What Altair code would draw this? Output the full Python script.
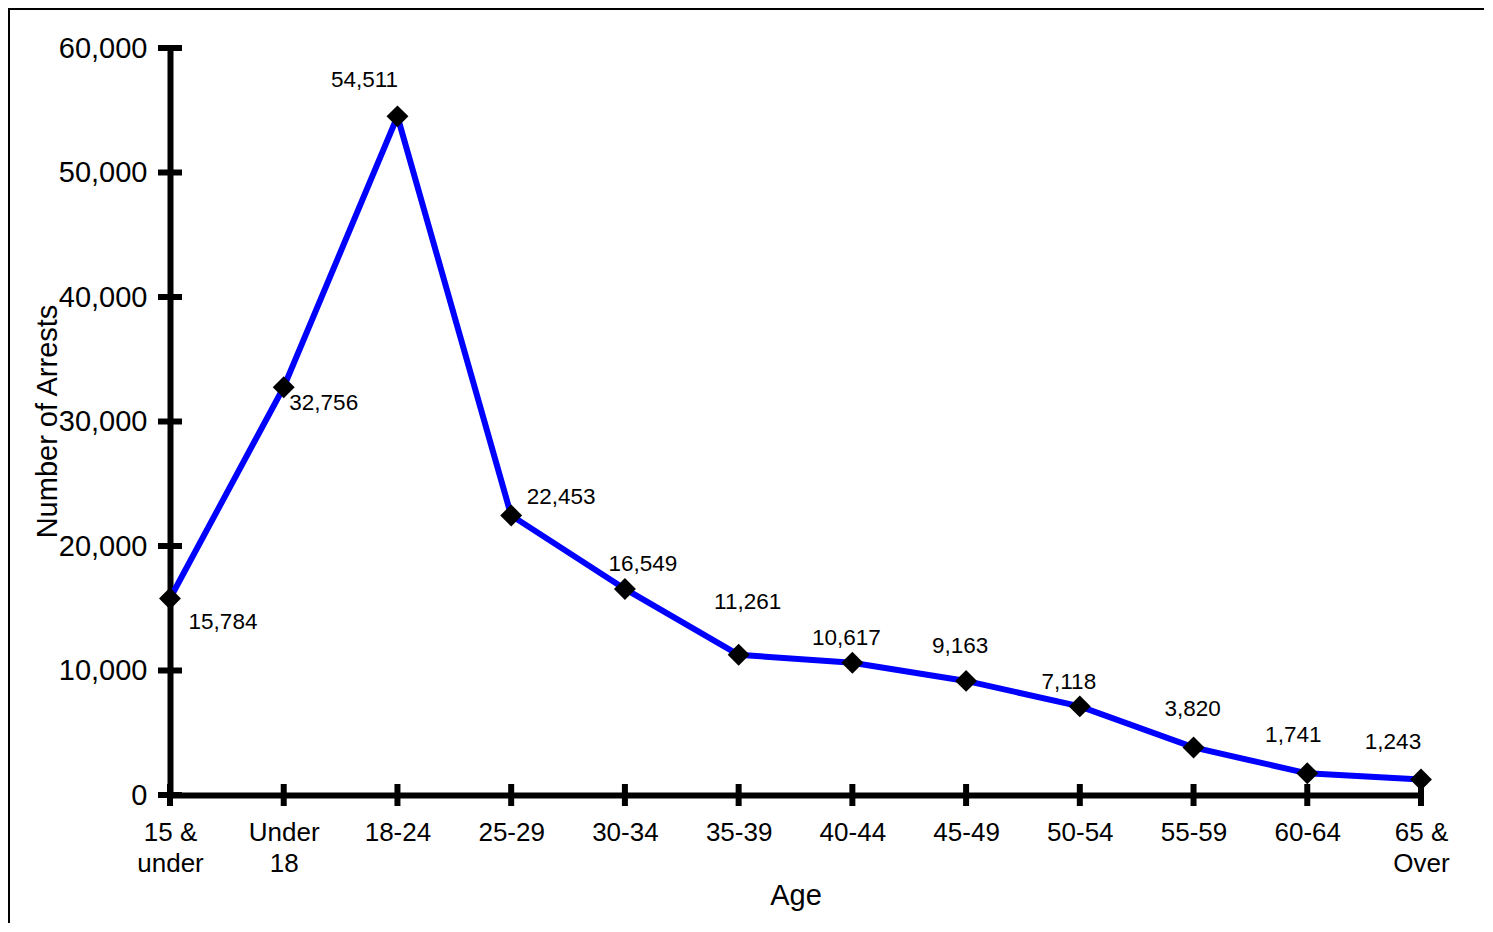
import altair as alt
import pandas as pd

# ---- data ----
age_groups = ["15 &\nunder", "Under\n18", "18-24", "25-29", "30-34", "35-39",
              "40-44", "45-49", "50-54", "55-59", "60-64", "65 &\nOver"]
arrests = [15784, 32756, 54511, 22453, 16549, 11261, 10617, 9163, 7118, 3820, 1741, 1243]
y_tick_values = [0, 10000, 20000, 30000, 40000, 50000, 60000]

# label placement (pixel offsets from each point, as in the reference)
label_offsets = [(53, 24), (40, 16), (-33, -36), (50, -18), (18, -25), (9, -53),
                 (-6, -25), (-6, -35), (-11, -24), (-1, -38), (-14, -38), (-28, -38)]

df = pd.DataFrame({"age": age_groups, "arrests": arrests})
df_ticks = pd.DataFrame({"arrests": y_tick_values})

FONT = "Liberation Sans"
W, H = 1251, 747
PAD = {"left": 162, "top": 40, "right": 63, "bottom": 128}

x_scale = alt.Scale(type="point", padding=0, domain=age_groups)
y_scale = alt.Scale(domain=[0, 60000], nice=False, zero=True)

x_axis = alt.Axis(title="Age", labelAngle=0,
                  labelExpr="split(datum.label, '\\n')",
                  labelFont=FONT, labelFontSize=26, labelColor="black",
                  labelLineHeight=31, labelPadding=24, labelBaseline="top",
                  ticks=False, grid=False, domainColor="black", domainWidth=6,
                  domainOpacity=1,
                  titleFont=FONT, titleFontSize=29, titleFontWeight="normal",
                  titleColor="black", titleY=100, titleBaseline="middle")
y_axis = alt.Axis(title="Number of Arrests", values=y_tick_values, format=",d",
                  labelFont=FONT, labelFontSize=29, labelColor="black",
                  labelPadding=23, ticks=False, grid=False,
                  domainColor="black", domainWidth=6, domainOpacity=1,
                  titleFont=FONT, titleFontSize=29, titleFontWeight="normal",
                  titleColor="black", titleAngle=-90, titleX=-123, titleY=373,
                  titleAlign="center", titleBaseline="middle")

X = alt.X("age:N", scale=x_scale, sort=age_groups, axis=x_axis)
Y = alt.Y("arrests:Q", scale=y_scale, axis=y_axis)

base = alt.Chart(df)

line = base.mark_line(color="#0000FF", strokeWidth=6).encode(x=X, y=Y)

points = base.mark_point(shape="diamond", filled=True, color="black",
                         size=480, opacity=1).encode(x=X, y=Y)

yticks = alt.Chart(df_ticks).mark_tick(color="black", thickness=6, size=24,
                                       orient="horizontal", opacity=1).encode(
    y=Y, x=alt.value(0),
)

xticks = base.mark_tick(color="black", thickness=6, size=22,
                        orient="vertical", opacity=1).encode(
    x=X, y=alt.value(H),
)

labels = []
for cat, (dx, dy) in zip(age_groups, label_offsets):
    labels.append(
        base.transform_filter(alt.datum.age == cat)
        .mark_text(font=FONT, fontSize=22.5, color="black", dx=dx, dy=dy,
                   align="center", baseline="middle")
        .encode(x=X, y=Y, text=alt.Text("arrests:Q", format=","))
    )

# outer frame (top and left edges of the figure border)
bx = 0.5 - PAD["left"]
by = 0.5 - PAD["top"]
border_top = base.mark_rule(color="black", strokeWidth=2).encode(
    x=alt.value(bx), x2=alt.value(W + PAD["right"]), y=alt.value(by)
)
border_left = base.mark_rule(color="black", strokeWidth=2).encode(
    x=alt.value(bx), y=alt.value(by), y2=alt.value(H + PAD["bottom"])
)

chart = alt.layer(line, yticks, xticks, points, *labels, border_top, border_left).properties(
    width=W, height=H, autosize="none", padding=PAD, background="white"
).configure_view(stroke=None)

chart.save("out.html", embed_options={"renderer": "svg", "actions": False})
